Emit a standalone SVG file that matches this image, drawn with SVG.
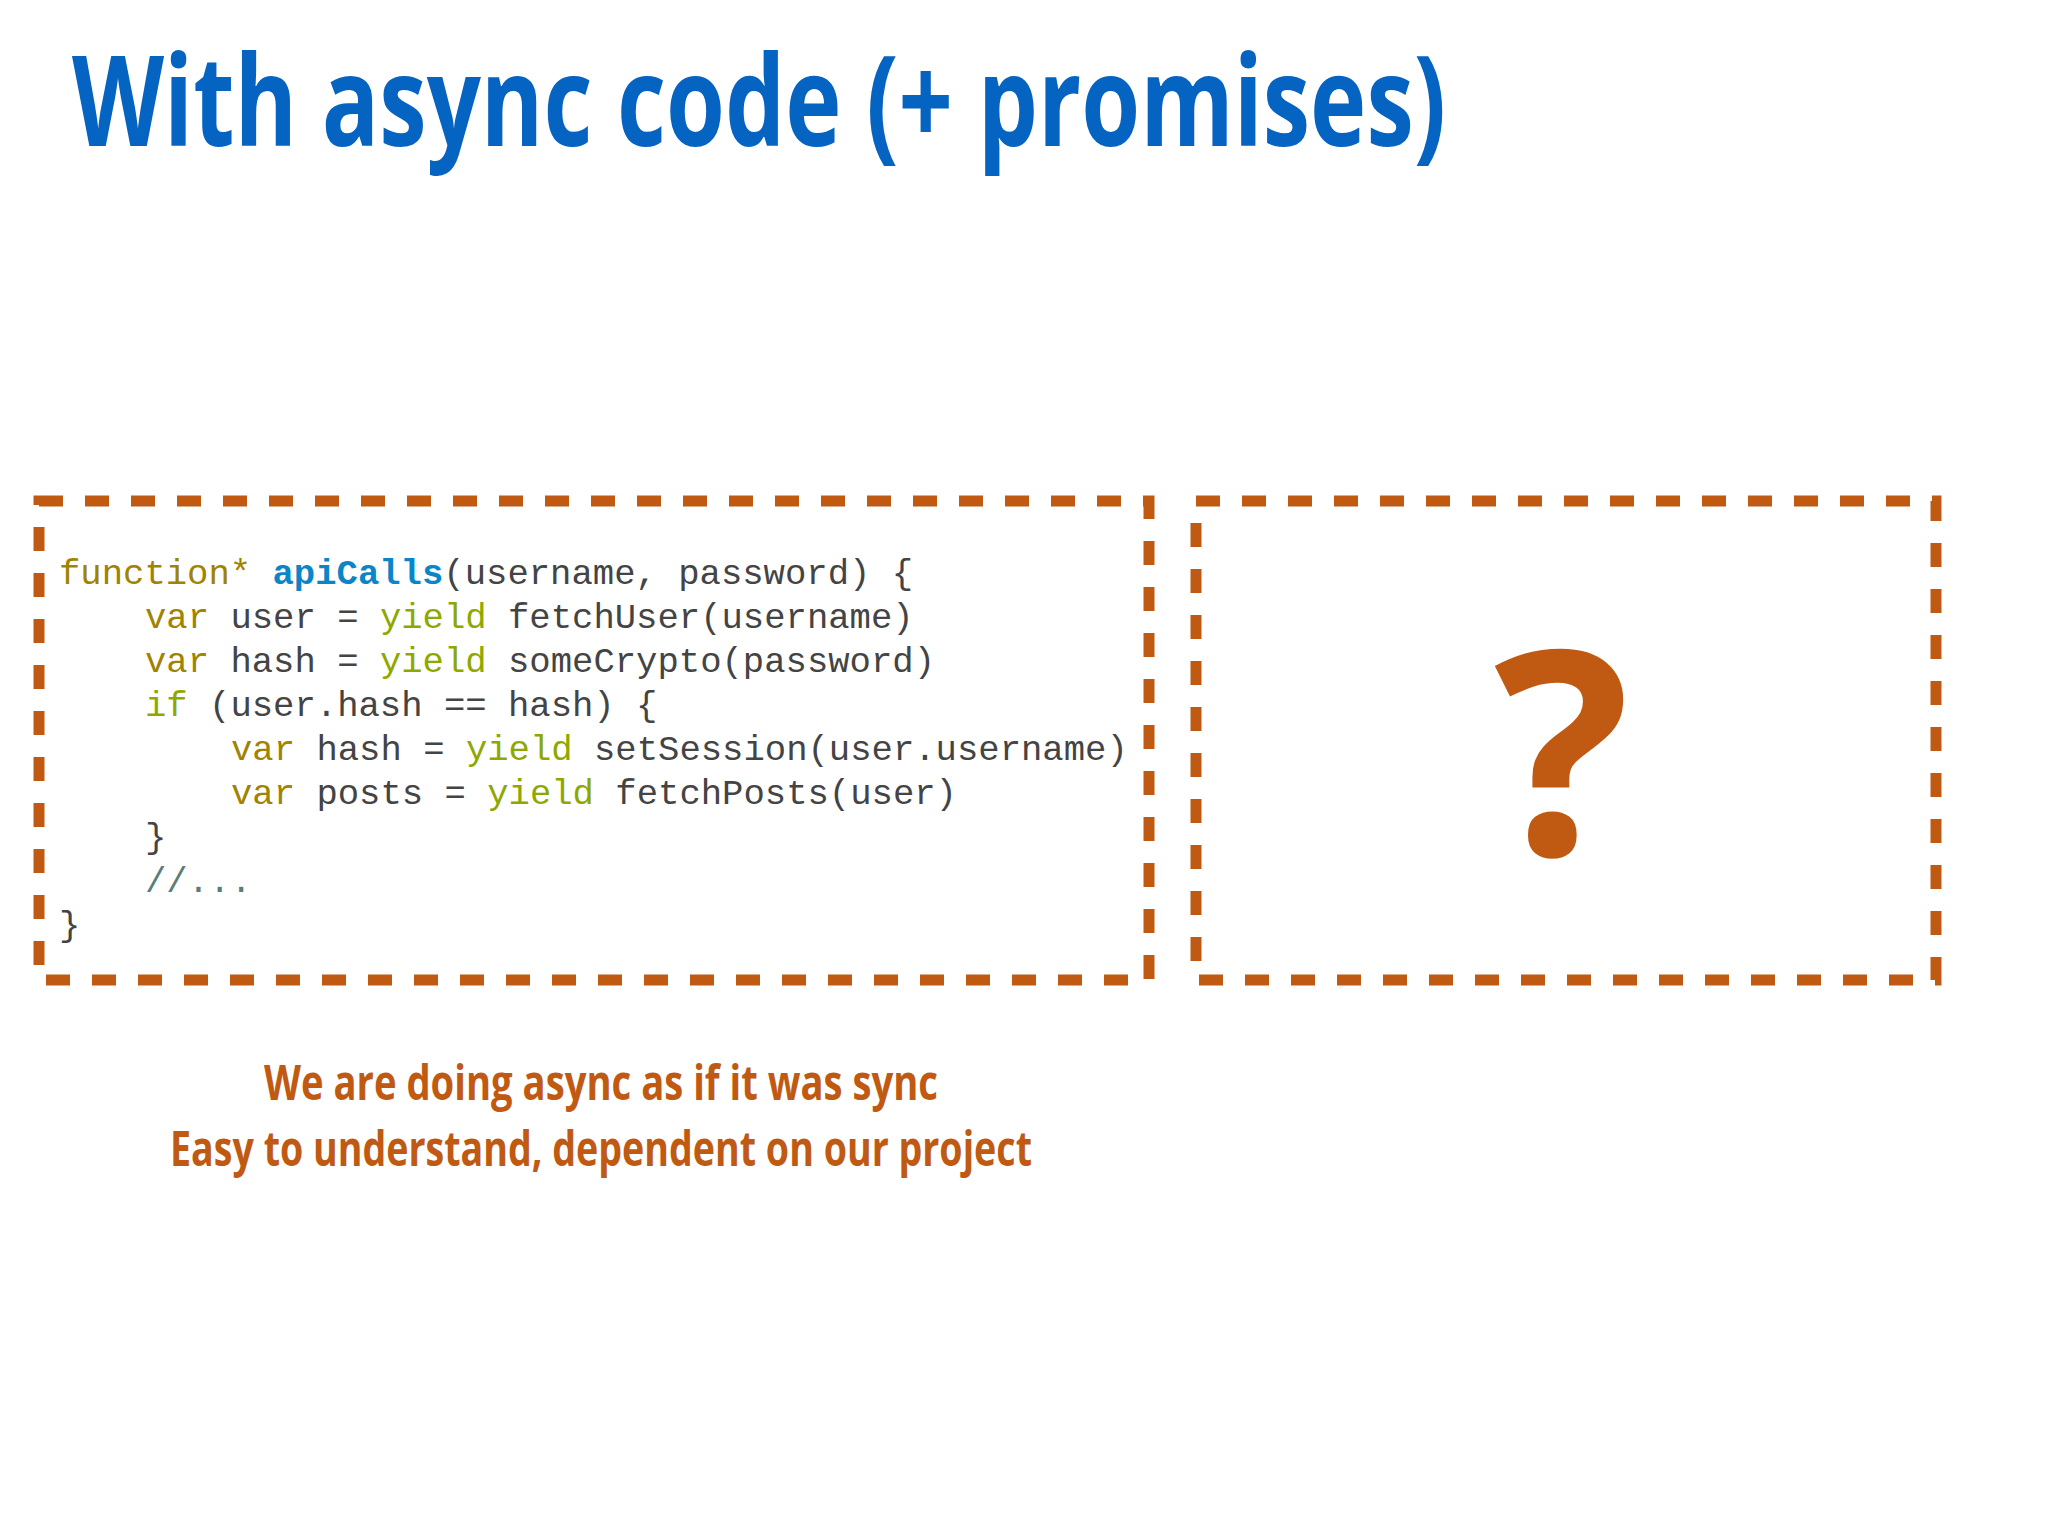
<svg xmlns="http://www.w3.org/2000/svg" width="2048" height="1536" viewBox="0 0 2048 1536">
<style>
.box{fill:none;stroke:#C05A12;stroke-width:11;stroke-dasharray:24 22}
.code{font-family:"Liberation Mono",monospace;font-size:35.6px;fill:#444}
.kw{fill:#A08300}.y{fill:#8EA800}.fn{fill:#0A86C8;font-weight:bold}.cm{fill:#5A7C7A}
.note{font-family:"Open Sans","Liberation Sans",sans-serif;font-weight:bold;font-size:49px;fill:#C05A12;text-anchor:middle}
</style>
<rect width="2048" height="1536" fill="#fff"/>
<text x="72" y="146" font-family="Open Sans, Liberation Sans, sans-serif" font-weight="bold" font-size="126" fill="#0563C1" textLength="1374" lengthAdjust="spacingAndGlyphs">With async code (+ promises)</text>
<g id="code-box">
<rect class="box" x="39" y="501" width="1110" height="479"/>
<text class="code" x="59" y="584"><tspan class="kw">function*</tspan> <tspan class="fn">apiCalls</tspan>(username, password) {</text>
<text class="code" x="145" y="628"><tspan class="kw">var</tspan> user = <tspan class="y">yield</tspan> fetchUser(username)</text>
<text class="code" x="145" y="672"><tspan class="kw">var</tspan> hash = <tspan class="y">yield</tspan> someCrypto(password)</text>
<text class="code" x="145" y="716"><tspan class="y">if</tspan> (user.hash == hash) {</text>
<text class="code" x="231" y="760"><tspan class="kw">var</tspan> hash = <tspan class="y">yield</tspan> setSession(user.username)</text>
<text class="code" x="231" y="804"><tspan class="kw">var</tspan> posts = <tspan class="y">yield</tspan> fetchPosts(user)</text>
<text class="code" x="145" y="848">}</text>
<text class="code cm" x="145" y="892">//...</text>
<text class="code" x="59" y="936">}</text>
</g>
<g id="unknown-box">
<rect class="box" x="1196" y="501" width="740" height="479"/>
<text x="1562" y="855" font-family="Open Sans, Liberation Sans, sans-serif" font-weight="bold" font-size="285" fill="#C05A12" text-anchor="middle">?</text>
</g>
<text class="note" x="601" y="1100" textLength="674" lengthAdjust="spacingAndGlyphs">We are doing async as if it was sync</text>
<text class="note" x="601" y="1166" textLength="862" lengthAdjust="spacingAndGlyphs">Easy to understand, dependent on our project</text>
</svg>
